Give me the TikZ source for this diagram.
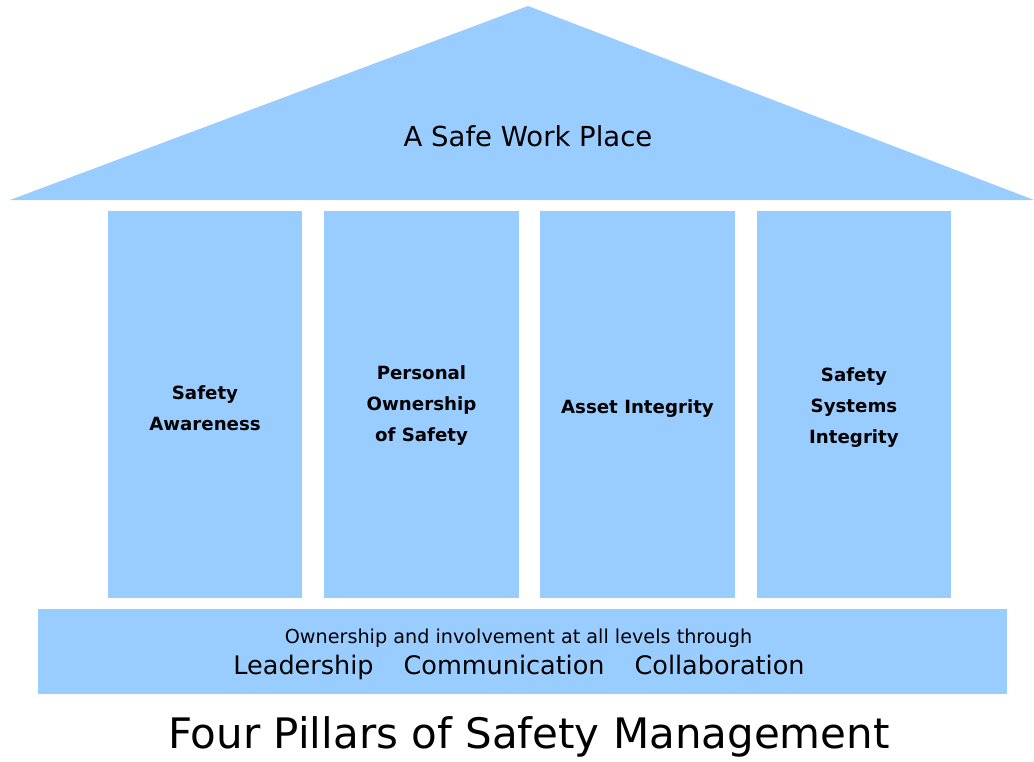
\documentclass[tikz,border=0pt]{standalone}
\usepackage{fontspec}
\setmainfont{DejaVu Sans}
\definecolor{pillarblue}{HTML}{99CCFF}
\begin{document}
\begin{tikzpicture}[x=1pt,y=-1pt,
  part/.style={fill=pillarblue,draw=none},
  pillarlabel/.style={align=center,font=\bfseries\fontsize{18.2}{31}\selectfont,inner sep=0pt}]
\useasboundingbox (0,0) rectangle (1034,761);
% roof
\fill[part] (528,6) -- (1034,200) -- (10,200) -- cycle;
\node[inner sep=0pt,font=\fontsize{27.5}{30}\selectfont] (roof) at (528,136) {A Safe Work Place};
% pillars
\fill[part] (108,211) rectangle (302,598);
\fill[part] (324,211) rectangle (519,598);
\fill[part] (540,211) rectangle (735,598);
\fill[part] (757,211) rectangle (951,598);
\node[pillarlabel] (p1) at (205,408) {Safety\\Awareness};
\node[pillarlabel] (p2) at (421.5,406) {Personal\\Ownership\\of Safety};
\node[pillarlabel] (p3) at (637.5,409) {Asset Integrity};
\node[pillarlabel] (p4) at (854,408) {Safety\\Systems\\Integrity};
% base
\fill[part] (38,609) rectangle (1007,694);
\node[inner sep=0pt,font=\fontsize{19.2}{22}\selectfont] (b1) at (518.5,638) {Ownership and involvement at all levels through};
\node[inner sep=0pt,font=\fontsize{25.5}{28}\selectfont] (b2) at (519,667) {Leadership\hspace{30pt}Communication\hspace{30pt}Collaboration};
% title
\node[inner sep=0pt,font=\fontsize{42}{46}\selectfont] (title) at (529,737) {Four Pillars of Safety Management};
\end{tikzpicture}
\end{document}
